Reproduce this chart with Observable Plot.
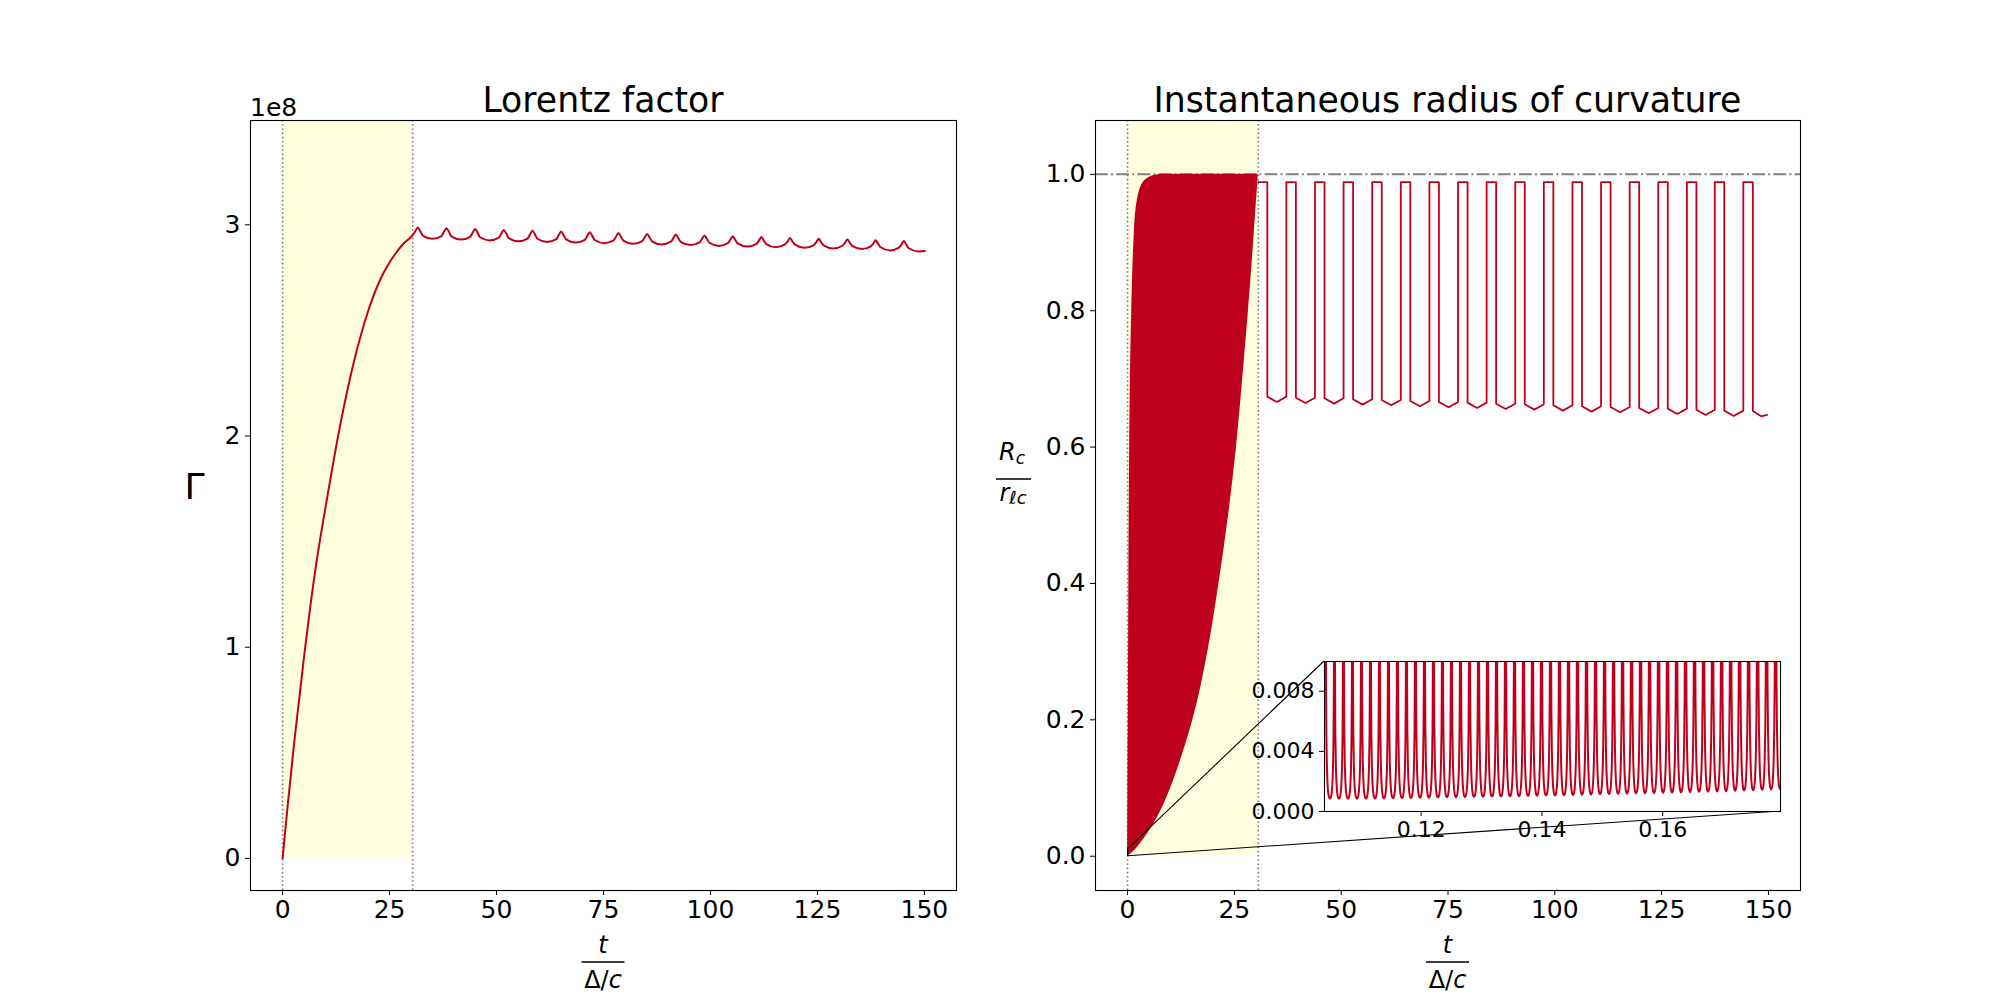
<!DOCTYPE html>
<html><head><meta charset="utf-8">
<script src="https://cdn.jsdelivr.net/npm/d3@7"></script>
<script src="https://cdn.jsdelivr.net/npm/@observablehq/plot@0.6"></script>
<style>
html,body{margin:0;padding:0;background:#fff;}
#wrap{position:relative;width:2000px;height:1000px;overflow:hidden;font-family:"DejaVu Sans";}
#wrap svg{position:absolute;left:0;top:0;max-width:none;}
</style></head><body><div id="wrap"></div>
<script>
// ---------- data ----------
const xTicks = [0, 25, 50, 75, 100, 125, 150];
const gammaTicks = [0, 1, 2, 3];            // units of 1e8
const rcTicks = [0, 0.2, 0.4, 0.6, 0.8, 1.0];
const insetXTicks = [0.12, 0.14, 0.16];
const insetYTicks = [0, 0.004, 0.008];

const shadeGammaT = [0, 30.4];               // acceleration window (left)
const shadeRcT = [0, 30.6];                  // acceleration window (right)
const rcLimit = [1.0];

// Lorentz factor Γ (×1e8): initial rise
const gammaRiseT = [0, 1.17, 2.72, 5.06, 7.40, 10.53, 13.64, 16.76, 19.89, 23.0, 24.5, 26.1, 28.45, 30.4];
const gammaRiseV = [0, 0.245, 0.551, 0.962, 1.331, 1.721, 2.070, 2.359, 2.585, 2.748, 2.805, 2.856, 2.915, 2.951];
// Lorentz factor: per-cycle peaks and troughs
const gammaPeakT = [31.6, 38.3, 45.0, 51.7, 58.4, 65.1, 71.8, 78.5, 85.2, 91.9, 98.6, 105.2, 111.9, 118.6, 125.3, 132.0, 138.6, 145.2];
const gammaPeakV = [2.987, 2.984, 2.980, 2.976, 2.972, 2.968, 2.965, 2.961, 2.957, 2.954, 2.950, 2.946, 2.942, 2.938, 2.934, 2.931, 2.927, 2.923];
const gammaTroughV = [2.934, 2.930, 2.926, 2.922, 2.919, 2.916, 2.913, 2.910, 2.907, 2.904, 2.900, 2.897, 2.894, 2.891, 2.888, 2.885, 2.879, 2.874];
const gammaEndT = [150.1];
const gammaEndV = [2.876];

// Radius of curvature: dense oscillation envelope during acceleration
const rcFillV  = [0, 0.01, 0.05, 0.1, 0.2, 0.3, 0.4, 0.5, 0.6, 0.7, 0.8, 0.9, 0.95, 0.98, 0.99, 0.997, 1.0];
const rcFillLo = [0, 0.02, 0.05, 0.08, 0.16, 0.24, 0.3, 0.38, 0.5, 0.66, 0.98, 1.48, 2.0, 3.0, 3.9, 5.5, 8.5];
const rcFillHi = [0, 1.9, 6.4, 10.1, 15.3, 18.8, 21.4, 23.65, 25.5, 26.95, 28.3, 29.5, 30.05, 30.4, 30.5, 30.55, 30.6];
// Radius of curvature: square-wave after acceleration
const rcTop = [0.9885];
const rcStartT = [30.6];
const rcDropT = [32.71, 39.40, 46.10, 52.79, 59.49, 66.18, 72.88, 79.58, 86.27, 92.97, 99.66, 106.36, 113.05, 119.75, 126.44, 133.14, 139.66, 146.35];
const rcRiseT = [37.17, 43.87, 50.56, 57.26, 63.95, 70.65, 77.35, 84.04, 90.74, 97.43, 104.13, 110.82, 117.52, 124.21, 130.91, 137.43, 144.12];
const rcBottom = [0.6740, 0.6725, 0.6716, 0.6701, 0.6691, 0.6676, 0.6662, 0.6652, 0.6637, 0.6628, 0.6613, 0.6598, 0.6588, 0.6574, 0.6564, 0.6549, 0.6535, 0.6530];
const rcMin = [0.6662, 0.6647, 0.6638, 0.6623, 0.6613, 0.6598, 0.6584, 0.6574, 0.6559, 0.6550, 0.6535, 0.6520, 0.6510, 0.6496, 0.6486, 0.6471, 0.6457];
const rcTailT = [148.3, 149.66];
const rcTailV = [0.6452, 0.6472];

// Inset: zoom on t in [0.104, 0.1795]
const insetXDomain = [0.104, 0.1795];
const insetYDomain = [0, 0.00998];
const insetSpikeT = [0.10416,0.10565,0.10714,0.10863,0.11012,0.11161,0.11310,0.11459,0.11608,0.11757,
  0.11906,0.12055,0.12204,0.12353,0.12502,0.12652,0.12801,0.12950,0.13099,0.13248,
  0.13397,0.13546,0.13695,0.13844,0.13993,0.14142,0.14291,0.14440,0.14589,0.14738,
  0.14888,0.15037,0.15186,0.15335,0.15484,0.15633,0.15782,0.15931,0.16080,0.16229,
  0.16378,0.16527,0.16676,0.16825,0.16975,0.17124,0.17273,0.17422,0.17571,0.17720,
  0.17869,0.18018];
const insetTrough = [0.00086,0.00085,0.00085,0.00085,0.00086,0.00086,0.00087,0.00088,0.00089,0.00090,
  0.00091,0.00092,0.00093,0.00094,0.00095,0.00096,0.00097,0.00098,0.00099,0.00100,
  0.00101,0.00102,0.00104,0.00105,0.00106,0.00107,0.00108,0.00110,0.00111,0.00112,
  0.00114,0.00115,0.00116,0.00118,0.00119,0.00121,0.00122,0.00124,0.00125,0.00127,
  0.00128,0.00130,0.00131,0.00133,0.00135,0.00137,0.00139,0.00141,0.00143,0.00146,
  0.00148];
// shape of one cycle (fraction of cycle, multiple of trough level)
const insetCycleU     = [0.02, 0.04, 0.07, 0.1, 0.15, 0.22, 0.3, 0.4, 0.5, 0.6, 0.7, 0.78, 0.85, 0.9, 0.93, 0.96, 0.98];
const insetCycleShape = [30, 16, 9.5, 6, 3.8, 2.3, 1.5, 1.1, 1, 1.1, 1.5, 2.3, 3.8, 6, 9.5, 16, 30];

// ---------- style ----------
const RED = "#bf001c", SHADE = "#ffffe0", DOT = "#7a7a6e", GRAY = "#808080";
const FONT = "DejaVu Sans";

// ---------- tables built from the arrays ----------
const gammaPts = gammaRiseT.map((t, i) => ({t, v: gammaRiseV[i]}));
gammaPeakT.forEach((p, i) => {
  const pk = gammaPeakV[i], tr = gammaTroughV[i];
  if (i > 0) gammaPts.push({t: p - 1.15, v: gammaTroughV[i - 1] + 0.013});
  gammaPts.push({t: p - 0.55, v: pk - 0.016}, {t: p, v: pk}, {t: p + 0.55, v: pk - 0.016},
                {t: p + 1.15, v: tr + 0.015}, {t: p + 3.4, v: tr});
});
gammaEndT.forEach((t, i) => gammaPts.push({t, v: gammaEndV[i]}));

const rcFill = rcFillV.map((v, i) => ({v, lo: rcFillLo[i], hi: rcFillHi[i]}));
const rcPts = [{t: rcStartT[0], v: rcTop[0]}];
rcDropT.forEach((d, i) => {
  rcPts.push({t: d, v: rcTop[0]}, {t: d, v: rcBottom[i]});
  if (i < rcRiseT.length) {
    const r = rcRiseT[i];
    rcPts.push({t: (d + r) / 2, v: rcMin[i]}, {t: r, v: rcBottom[i]}, {t: r, v: rcTop[0]});
  }
});
rcTailT.forEach((t, i) => rcPts.push({t, v: rcTailV[i]}));

const insetPts = [];
for (let k = 0; k < insetSpikeT.length - 1; k++) {
  const a = insetSpikeT[k], b = insetSpikeT[k + 1];
  insetCycleU.forEach((u, j) => insetPts.push({t: a + u * (b - a), v: insetTrough[k] * insetCycleShape[j]}));
}

// ---------- charts ----------
const W = 2000, H = 1000;
const baseStyle = (fs) => ({fontFamily: FONT, fontSize: fs, background: "transparent", color: "black", overflow: "visible"});

const left = Plot.plot({
  width: W, height: H, marginLeft: 250, marginRight: 1044, marginTop: 120, marginBottom: 110,
  style: baseStyle("25px"),
  x: {domain: [-7.5, 157.5], ticks: xTicks, tickFormat: d => String(d), tickSize: 5, tickPadding: 5, label: null},
  y: {domain: [-0.152, 3.494], ticks: gammaTicks, tickFormat: d => String(d), tickSize: 5, tickPadding: 5, label: null},
  marks: [
    Plot.rect([0], {x1: () => shadeGammaT[0], x2: () => shadeGammaT[1], y1: () => 0, y2: () => 3.494, fill: SHADE}),
    Plot.ruleX(shadeGammaT, {stroke: DOT, strokeWidth: 1.6, strokeDasharray: "1.6,2.6"}),
    Plot.line(gammaPts, {x: "t", y: "v", stroke: RED, strokeWidth: 2, curve: "monotone-x"}),
    Plot.frame({stroke: "black", strokeWidth: 1.1})
  ]
});

const right = Plot.plot({
  width: W, height: H, marginLeft: 1095, marginRight: 200, marginTop: 120, marginBottom: 110,
  style: baseStyle("25px"),
  x: {domain: [-7.5, 157.5], ticks: xTicks, tickFormat: d => String(d), tickSize: 5, tickPadding: 5, label: null},
  y: {domain: [-0.0503, 1.079], ticks: rcTicks, tickFormat: d3.format(".1f"), tickSize: 5, tickPadding: 5, label: null},
  marks: [
    Plot.rect([0], {x1: () => shadeRcT[0], x2: () => shadeRcT[1], y1: () => 0, y2: () => 1.079, fill: SHADE}),
    Plot.ruleX(shadeRcT, {stroke: DOT, strokeWidth: 1.6, strokeDasharray: "1.6,2.6"}),
    Plot.ruleY(rcLimit, {stroke: GRAY, strokeWidth: 2, strokeDasharray: "12.8,3.2,2,3.2"}),
    Plot.areaX(rcFill, {y: "v", x1: "lo", x2: "hi", fill: RED, curve: "catmull-rom"}),
    Plot.line(rcPts, {x: "t", y: "v", stroke: RED, strokeWidth: 1.8}),
    Plot.rect([0], {x1: () => insetXDomain[0], x2: () => insetXDomain[1], y1: () => insetYDomain[0], y2: () => insetYDomain[1], fill: "none", stroke: "black", strokeWidth: 1}),
    Plot.frame({stroke: "black", strokeWidth: 1.1})
  ]
});

const inset = Plot.plot({
  width: W, height: H, marginLeft: 1324, marginRight: 220, marginTop: 661, marginBottom: 189,
  style: baseStyle("22px"),
  x: {domain: insetXDomain, ticks: insetXTicks, tickFormat: d3.format(".2f"), tickSize: 5, tickPadding: 5, label: null},
  y: {domain: insetYDomain, ticks: insetYTicks, tickFormat: d3.format(".3f"), tickSize: 5, tickPadding: 5, label: null},
  marks: [
    Plot.frame({fill: "white", stroke: null}),
    Plot.line(insetPts, {x: "t", y: "v", stroke: RED, strokeWidth: 2, curve: "catmull-rom", clip: true}),
    Plot.frame({stroke: "black", strokeWidth: 1.1})
  ]
});

const wrap = document.getElementById("wrap");
wrap.appendChild(left);
wrap.appendChild(right);
wrap.appendChild(inset);

// ---------- titles, axis labels, inset connectors ----------
function addText(svg, x, y, size, parts, anchor = "middle") {
  const t = d3.select(svg).append("text").attr("x", x).attr("y", y)
    .attr("text-anchor", anchor).attr("font-family", FONT).attr("font-size", size).attr("fill", "black");
  parts.forEach(p => {
    const s = t.append("tspan").text(p.text);
    if (p.italic) s.attr("font-style", "italic");
    if (p.size) s.attr("font-size", p.size);
    if (p.dy) s.attr("dy", p.dy);
  });
  return t;
}
function addBar(svg, x1, x2, y) {
  d3.select(svg).append("line").attr("x1", x1).attr("x2", x2).attr("y1", y).attr("y2", y)
    .attr("stroke", "black").attr("stroke-width", 1.5);
}
function frameInfo(chart) {
  const sx = chart.scale("x"), sy = chart.scale("y");
  return {x0: sx.range[0], x1: sx.range[1], yb: sy.range[0], yt: sy.range[1],
          fx: d3.scaleLinear(sx.domain, sx.range), fy: d3.scaleLinear(sy.domain, sy.range)};
}
const L = frameInfo(left), R = frameInfo(right), I = frameInfo(inset);

// Left panel
const lcx = (L.x0 + L.x1) / 2;
addText(left, lcx, L.yt - 8.5, 34.7, [{text: "Lorentz factor"}]);
addText(left, L.x0, L.yt - 4.5, 25, [{text: "1e8"}], "start");
addText(left, 194.5, 499, 36, [{text: "Γ"}]);
addText(left, lcx, 953, 24, [{text: "t", italic: true}]);
addBar(left, lcx - 21.5, lcx + 21.5, 962);
addText(left, lcx, 988, 24, [{text: "Δ/"}, {text: "c", italic: true}]);

// Right panel
const rcx = (R.x0 + R.x1) / 2;
addText(right, rcx, R.yt - 8.5, 34.7, [{text: "Instantaneous radius of curvature"}]);
addText(right, rcx, 953, 24, [{text: "t", italic: true}]);
addBar(right, rcx - 21.5, rcx + 21.5, 962);
addText(right, rcx, 988, 24, [{text: "Δ/"}, {text: "c", italic: true}]);
addText(right, 1012, 460, 24, [{text: "R", italic: true}, {text: "c", italic: true, size: 17, dy: 4}]);
addBar(right, 996, 1031, 479);
addText(right, 1013, 501, 24, [{text: "r", italic: true}, {text: "ℓc", italic: true, size: 18, dy: 3}]);

// Connectors from zoom box to the inset corners
const g = d3.select(right).append("g").attr("stroke", "black").attr("stroke-width", 1.1);
g.append("line")
  .attr("x1", R.fx(insetXDomain[0])).attr("y1", R.fy(insetYDomain[1]))
  .attr("x2", I.x0).attr("y2", I.yt);
g.append("line")
  .attr("x1", R.fx(insetXDomain[1])).attr("y1", R.fy(insetYDomain[0]))
  .attr("x2", I.x1).attr("y2", I.yb);
</script></body></html>
